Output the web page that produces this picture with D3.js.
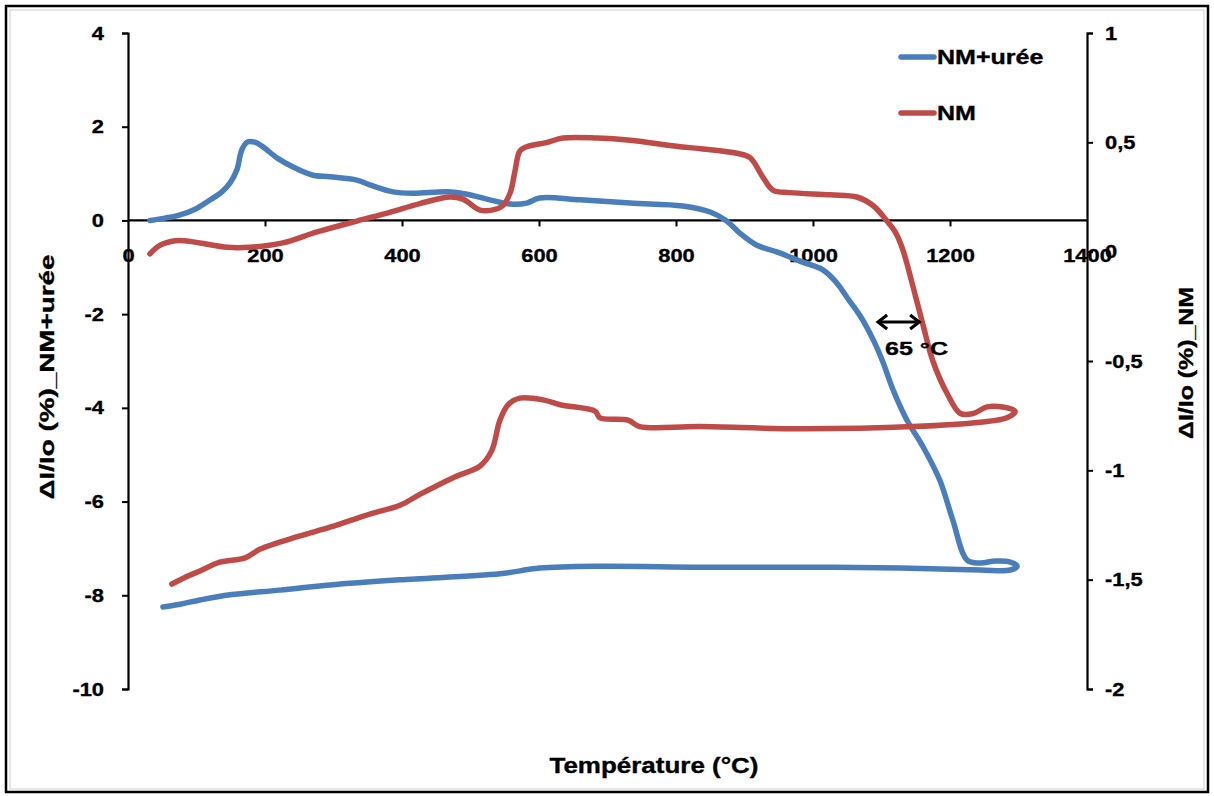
<!DOCTYPE html>
<html><head><meta charset="utf-8">
<script src="https://cdn.jsdelivr.net/npm/d3@7"></script>
<style>body{margin:0;background:#fff}svg{display:block}text{font-family:"Liberation Sans",Arial,sans-serif;font-weight:bold;fill:#000;stroke:#000;stroke-width:0.35px}</style>
</head><body>
<svg id="c" width="1214" height="796"></svg>
<script>
// Data
const xTicks = [0,200,400,600,800,1000,1200,1400];
const leftTicks = [4,2,0,-2,-4,-6,-8,-10];
const rightTicks = [1,0.5,0,-0.5,-1,-1.5,-2];
const seriesNames = ["NM+urée","NM"];
// NM+urée (left axis): temperature, ΔI/Io (%)
const ureeTemp = [32,54,76,98,120,137,149,159,166,174,185,197,218,241,269,295,334,353,387,416,466,495,528,558,582,601,660,733,810,850,874,893,918,947,985,1015,1035,1050,1069,1088,1102,1117,1137,1161,1185,1204,1225,1244,1266,1288,1298,1288,1244,1127,981,835,689,601,543,397,295,222,149,105,76,51];
const ureeVal  = [0.0,0.05,0.12,0.24,0.44,0.61,0.80,1.08,1.50,1.67,1.67,1.57,1.33,1.14,0.97,0.93,0.86,0.76,0.61,0.58,0.61,0.56,0.44,0.35,0.37,0.48,0.44,0.37,0.31,0.18,-0.01,-0.27,-0.53,-0.67,-0.89,-1.06,-1.34,-1.65,-2.04,-2.55,-3.02,-3.62,-4.26,-4.84,-5.54,-6.39,-7.25,-7.31,-7.27,-7.29,-7.38,-7.46,-7.46,-7.42,-7.40,-7.40,-7.38,-7.42,-7.54,-7.67,-7.78,-7.89,-7.99,-8.10,-8.19,-8.25];
// NM (right axis)
const nmTemp = [32,47,69,83,105,145,178,226,276,334,382,426,470,489,514,531,547,558,565,572,582,612,635,685,733,806,839,889,908,927,942,966,1025,1064,1088,1108,1120,1131,1146,1161,1175,1196,1215,1234,1254,1277,1295,1283,1244,1146,981,835,747,730,689,682,631,609,572,555,543,531,514,477,426,397,353,295,251,193,171,134,105,83,64];
const nmVal  = [-0.01,0.03,0.05,0.05,0.04,0.02,0.02,0.04,0.09,0.14,0.18,0.22,0.25,0.24,0.19,0.19,0.21,0.27,0.37,0.46,0.48,0.50,0.52,0.52,0.51,0.48,0.47,0.45,0.43,0.34,0.28,0.27,0.26,0.25,0.21,0.14,0.09,0.01,-0.16,-0.34,-0.50,-0.65,-0.74,-0.74,-0.71,-0.71,-0.73,-0.76,-0.78,-0.80,-0.81,-0.80,-0.80,-0.77,-0.76,-0.73,-0.70,-0.68,-0.67,-0.70,-0.77,-0.91,-0.98,-1.03,-1.11,-1.16,-1.20,-1.26,-1.30,-1.36,-1.40,-1.42,-1.46,-1.49,-1.52];

const svg = d3.select("#c");
const L=128, R=1087, T=33, B=689;
const x = d3.scaleLinear().domain([0,1400]).range([L,R]);
const yL = d3.scaleLinear().domain([-10,4]).range([B,T]);
const yR = d3.scaleLinear().domain([-2,1]).range([B,T]);
const blue="#4a7ebb", red="#be4b48";

function stretch(sel,k){sel.each(function(){const l=this.getComputedTextLength();this.setAttribute("textLength",l*k);this.setAttribute("lengthAdjust","spacingAndGlyphs");});}

// borders
svg.append("rect").attr("x",6).attr("y",6).attr("width",1202).attr("height",786).attr("fill","none").attr("stroke","#000").attr("stroke-width",2.5);
svg.append("rect").attr("x",10).attr("y",10).attr("width",1194).attr("height",779).attr("fill","none").attr("stroke","#d0d0d0").attr("stroke-width",1);

// left axis
const gl = svg.append("g").attr("transform",`translate(${L},0)`).call(d3.axisLeft(yL).tickValues(leftTicks).tickSize(6).tickPadding(18).tickFormat(d=>String(d)));
// right axis
const gr = svg.append("g").attr("transform",`translate(${R},0)`).call(d3.axisRight(yR).tickValues(rightTicks).tickSize(6).tickPadding(12).tickFormat(d=>String(d).replace(".",",")));
// x axis at y=0 of left
const gx = svg.append("g").attr("transform",`translate(0,${yL(0)})`).call(d3.axisBottom(x).tickValues(xTicks).tickSize(6).tickPadding(22).tickFormat(d=>String(d)));
[gl,gr,gx].forEach(g=>{g.select(".domain").attr("stroke","#000").attr("stroke-width",2.2);g.selectAll(".tick line").attr("stroke","#000").attr("stroke-width",2);g.selectAll("text").attr("font-size",19).attr("font-family",null).attr("fill","#000");});
gx.selectAll(".domain").attr("d",`M${L},0H${R}`);
gx.selectAll(".tick").filter(d=>d===0||d===1400).select("line").remove();
stretch(gl.selectAll("text"),1.15);stretch(gr.selectAll("text"),1.15);stretch(gx.selectAll("text"),1.15);

// curves
const line = d3.line().curve(d3.curveCatmullRom.alpha(0.5));
svg.append("path").attr("d",line(ureeTemp.map((t,i)=>[x(t),yL(ureeVal[i])]))).attr("fill","none").attr("stroke",blue).attr("stroke-width",5.5).attr("stroke-linejoin","round").attr("stroke-linecap","round");
svg.append("path").attr("d",line(nmTemp.map((t,i)=>[x(t),yR(nmVal[i])]))).attr("fill","none").attr("stroke",red).attr("stroke-width",5.5).attr("stroke-linejoin","round").attr("stroke-linecap","round");

// legend
[[blue,57],[red,113]].forEach(([c,yy],i)=>{
  svg.append("line").attr("x1",901).attr("x2",934).attr("y1",yy).attr("y2",yy).attr("stroke",c).attr("stroke-width",5.5).attr("stroke-linecap","round");
  const t=svg.append("text").attr("x",937).attr("y",yy).attr("dy","0.36em").attr("font-size",20).text(seriesNames[i]);
  stretch(t,1.25);
});

// annotation
const ay=322;
svg.append("line").attr("x1",x(1095)).attr("x2",x(1155)).attr("y1",ay).attr("y2",ay).attr("stroke","#000").attr("stroke-width",3);
svg.append("path").attr("d",`M${x(1095)+9},${ay-7}L${x(1095)},${ay}L${x(1095)+9},${ay+7}M${x(1155)-9},${ay-7}L${x(1155)},${ay}L${x(1155)-9},${ay+7}`).attr("fill","none").attr("stroke","#000").attr("stroke-width",3.2);
svg.append("text").attr("x",885).attr("y",348).attr("dy","0.36em").attr("font-size",19).attr("textLength",63).attr("lengthAdjust","spacingAndGlyphs").text("65 °C");

// titles
const xt=svg.append("text").attr("x",654).attr("y",765).attr("dy","0.36em").attr("text-anchor","middle").attr("font-size",22).text("Température (°C)");
stretch(xt,1.18);
svg.append("text").attr("transform","translate(47,377) rotate(-90)").attr("dy","0.36em").attr("text-anchor","middle").attr("font-size",20).attr("textLength",245).attr("lengthAdjust","spacingAndGlyphs").text("ΔI/Io (%)_NM+urée");
svg.append("text").attr("transform","translate(1186,363) rotate(-90)").attr("dy","0.36em").attr("text-anchor","middle").attr("font-size",20).attr("textLength",152).attr("lengthAdjust","spacingAndGlyphs").text("ΔI/Io (%)_NM");
</script>
</body></html>
